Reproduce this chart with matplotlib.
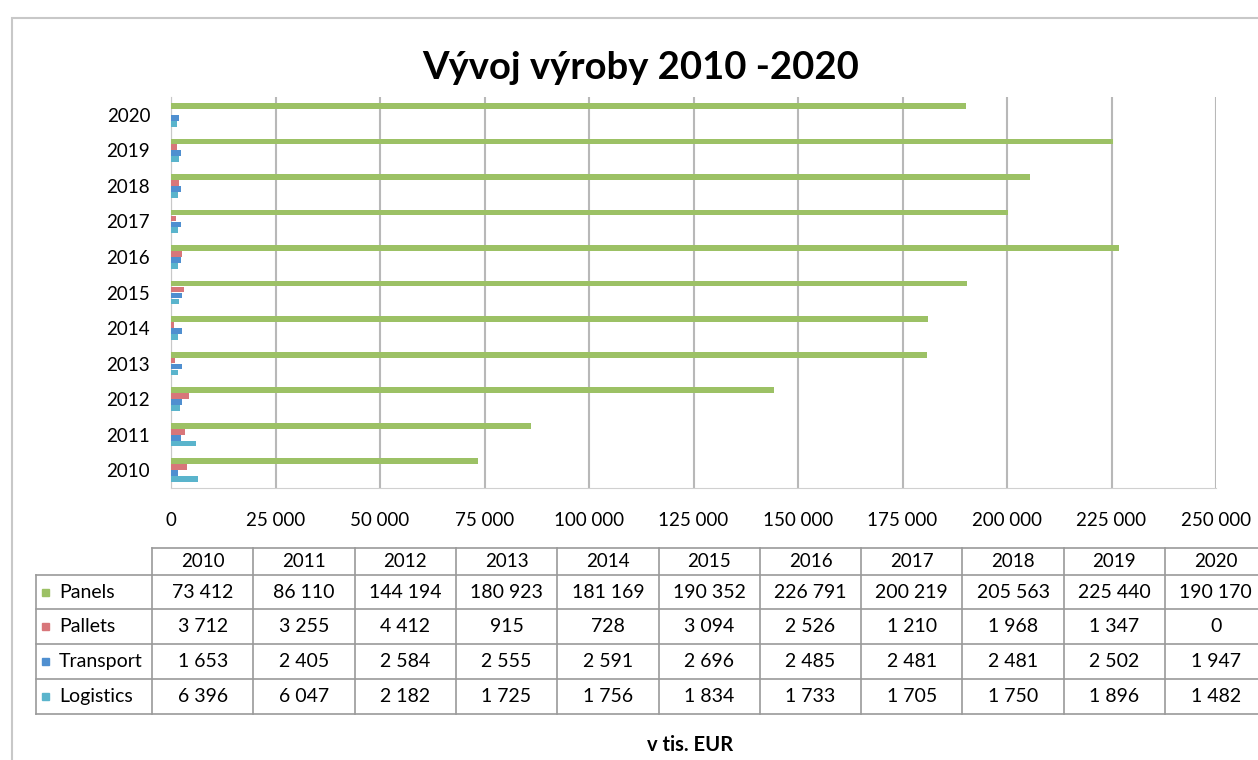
import matplotlib.pyplot as plt
import numpy as np

years = [2010, 2011, 2012, 2013, 2014, 2015, 2016, 2017, 2018, 2019, 2020]
series = ["Panels", "Pallets", "Transport", "Logistics"]
panels = [73412, 86110, 144194, 180923, 181169, 190352, 226791, 200219, 205563, 225440, 190170]
pallets = [3712, 3255, 4412, 915, 728, 3094, 2526, 1210, 1968, 1347, 0]
transport = [1653, 2405, 2584, 2555, 2591, 2696, 2485, 2481, 2481, 2502, 1947]
logistics = [6396, 6047, 2182, 1725, 1756, 1834, 1733, 1705, 1750, 1896, 1482]
colors = ["#9cc165", "#d8767a", "#4f8fd0", "#5ab4cc"]

plt.rcParams['font.family'] = ['Lato', 'DejaVu Sans']

W, H = 1258, 760
fig = plt.figure(figsize=(W / 100, H / 100), dpi=100)

def fx(px):
    return px / W

def fy(py):
    return 1 - py / H

# chart area frame
fig.add_artist(plt.Rectangle((fx(12), fy(800)), fx(1300), fy(18) - fy(800),
                             transform=fig.transFigure, fill=False,
                             edgecolor="#c8c8c8", lw=1.5))

ax = fig.add_axes([fx(171), fy(488), fx(1216) - fx(171), fy(97) - fy(488)])
y = np.arange(len(years))
data = [panels, pallets, transport, logistics]
offs = [0.25, 0.085, -0.085, -0.25]
for vals, off, c, name in zip(data, offs, colors, series):
    ax.barh(y + off, vals, height=0.16, color=c, label=name, zorder=3)

ax.set_xlim(0, 250000)
ax.set_ylim(-0.5, len(years) - 0.5)
ax.set_xticks(np.arange(0, 250001, 25000))
ax.set_xticklabels([f"{v:,}".replace(",", " ") for v in range(0, 250001, 25000)], fontsize=13.5)
ax.set_yticks(y)
ax.set_yticklabels([str(v) for v in years], fontsize=13.5)
ax.tick_params(axis='x', length=0, pad=17)
ax.tick_params(axis='y', length=0, pad=15)
ax.grid(axis='x', color="#b8b8b8", lw=1.5, zorder=0)
for s in ["top", "right"]:
    ax.spines[s].set_visible(False)
ax.spines["left"].set_color("#c8c8c8")
ax.spines["bottom"].set_color("#d0d0d0")

fig.text(fx(641), fy(68), "Vývoj výroby 2010 -2020", ha="center", va="center",
         fontsize=27.5, fontweight="bold")

# data table
col_x0, col_w = 152, 101.3
lab_x0 = 36
row_y = [548, 575, 609, 644, 679, 714]
lc = "#9a9a9a"
x_end = col_x0 + col_w * len(years)

def hline(x0, x1, yy):
    fig.add_artist(plt.Line2D([fx(x0), fx(x1)], [fy(yy), fy(yy)],
                              transform=fig.transFigure, color=lc, lw=1.2))

def vline(xx, y0, y1):
    fig.add_artist(plt.Line2D([fx(xx), fx(xx)], [fy(y0), fy(y1)],
                              transform=fig.transFigure, color=lc, lw=1.2))

hline(col_x0, x_end, row_y[0])
for yy in row_y[1:]:
    hline(lab_x0, x_end, yy)
vline(lab_x0, row_y[1], row_y[-1])
for i in range(len(years) + 1):
    vline(col_x0 + col_w * i, row_y[0], row_y[-1])

for i, yr in enumerate(years):
    fig.text(fx(col_x0 + col_w * (i + 0.5)), fy((row_y[0] + row_y[1]) / 2), str(yr),
             ha="center", va="center", fontsize=13.5)
for r, (name, vals, c) in enumerate(zip(series, data, colors)):
    yc = (row_y[r + 1] + row_y[r + 2]) / 2
    fig.add_artist(plt.Rectangle((fx(42), fy(yc + 3.5)), fx(7), fy(yc - 3.5) - fy(yc + 3.5),
                                 transform=fig.transFigure, color=c))
    fig.text(fx(59), fy(yc), name, ha="left", va="center", fontsize=14)
    for i, v in enumerate(vals):
        fig.text(fx(col_x0 + col_w * (i + 0.5)), fy(yc), f"{v:,}".replace(",", " "),
                 ha="center", va="center", fontsize=14)

fig.text(fx(690), fy(745), "v tis. EUR", ha="center", va="center",
         fontsize=14.5, fontweight="bold")

fig.savefig("out.png", dpi=100)
